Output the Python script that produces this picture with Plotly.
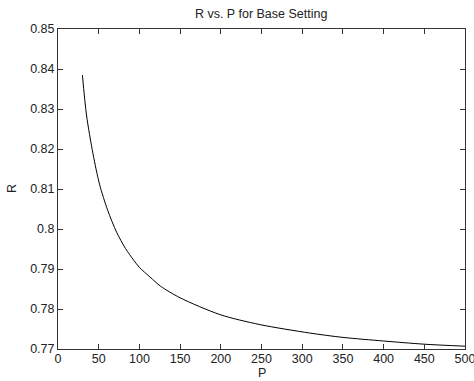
import plotly.graph_objects as go

P = [30, 35, 43, 51, 61, 72, 83, 93, 100, 113, 126, 150, 199, 248, 309, 350, 400, 450, 500]
R = [0.8385, 0.8285, 0.8188, 0.8112, 0.8047, 0.7992, 0.7951, 0.7922, 0.7904, 0.7880, 0.7857,
     0.7828, 0.7786, 0.7761, 0.7740, 0.7729, 0.7720, 0.7712, 0.7707]

x_ticks = [0, 50, 100, 150, 200, 250, 300, 350, 400, 450, 500]
y_ticks = [0.77, 0.78, 0.79, 0.80, 0.81, 0.82, 0.83, 0.84, 0.85]
y_labels = ["0.77", "0.78", "0.79", "0.8", "0.81", "0.82", "0.83", "0.84", "0.85"]

fig = go.Figure()
fig.add_trace(go.Scatter(x=P, y=R, mode="lines",
                         line=dict(color="black", width=1, shape="spline", smoothing=0.8),
                         showlegend=False, hoverinfo="skip"))

FONT = "Liberation Sans, Arial"
axis_common = dict(showline=True, linecolor="#333333", linewidth=1, mirror="ticks",
                   ticks="inside", ticklen=5, tickcolor="#333333", showgrid=False,
                   zeroline=False, ticklabeloverflow="allow", automargin=False,
                   tickfont=dict(family=FONT, size=12.5, color="#222222"))

fig.update_layout(
    width=474, height=381,
    margin=dict(l=58, r=9, t=29, b=32),
    paper_bgcolor="white", plot_bgcolor="white",
    title=dict(text="R vs. P for Base Setting", x=0.551, xanchor="center", y=0.963, yanchor="middle",
               font=dict(family=FONT, size=12.5, color="#222222")),
    xaxis=dict(range=[0, 500], tickvals=x_ticks, ticktext=[str(v) for v in x_ticks],
               ticklabelstandoff=-2, **axis_common),
    yaxis=dict(range=[0.77, 0.85], tickvals=y_ticks, ticktext=y_labels,
               **axis_common),
    annotations=[
        dict(text="P", xref="paper", yref="paper", x=0.5, y=-0.076, xanchor="center", yanchor="middle",
             showarrow=False, borderpad=0, font=dict(family=FONT, size=12.5, color="#222222")),
        dict(text="R", xref="paper", yref="paper", x=-0.113, y=0.5, xanchor="center", yanchor="middle",
             textangle=-90, showarrow=False, font=dict(family=FONT, size=12.5, color="#222222")),
    ],
)

fig.write_html("out.html")
